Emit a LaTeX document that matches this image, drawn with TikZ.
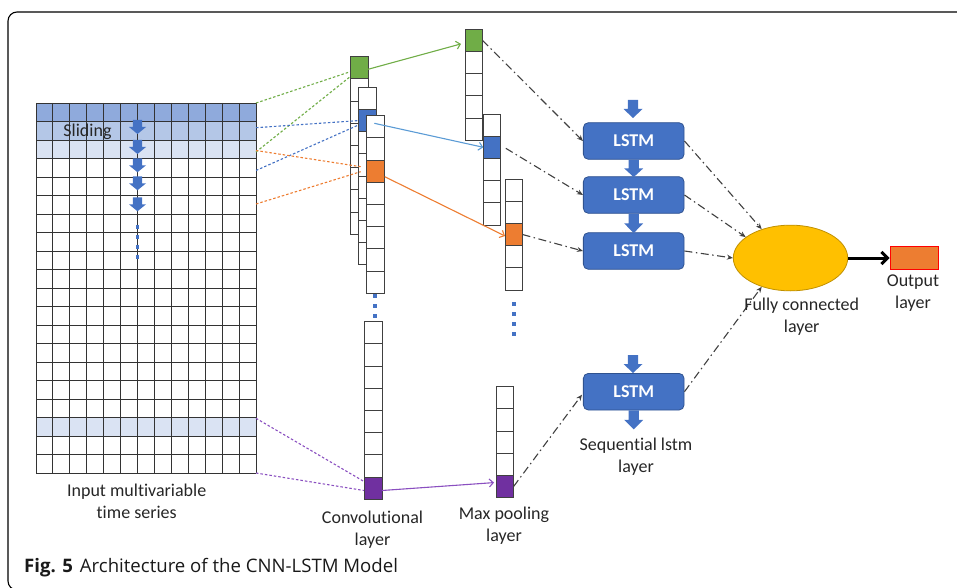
\documentclass[tikz,border=0pt]{standalone}
\usepackage{fontspec}
\setmainfont{Carlito}[Ligatures=NoCommon]
\newfontfamily\capfont{Open Sans}
\usetikzlibrary{arrows.meta,shapes.geometric,calc}

\definecolor{gblue}{HTML}{4472C4}
\definecolor{gblueD}{HTML}{2F528F}
\definecolor{rowA}{HTML}{8FAADC}
\definecolor{rowB}{HTML}{B4C7E7}
\definecolor{rowC}{HTML}{DAE3F3}
\definecolor{cgreen}{HTML}{70AD47}
\definecolor{corange}{HTML}{ED7D31}
\definecolor{cpurpleF}{HTML}{7030A0}
\definecolor{cpurpleL}{HTML}{8A4FC0}
\definecolor{lblue}{HTML}{5B9BD5}
\definecolor{fcy}{HTML}{FFC000}
\definecolor{fcyD}{HTML}{C09000}

\tikzset{pics/darr/.style 2 args={code={
  \fill[gblue] (-0.27*#1,0) -- (0.27*#1,0) -- (0.27*#1,0.5*#2) -- (0.5*#1,0.5*#2) -- (0,#2) -- (-0.5*#1,0.5*#2) -- (-0.27*#1,0.5*#2) -- cycle;}}}

\newcommand\cellcol[7]{%
  \foreach \i in {1,...,#4}{%
    \ifnum\i=#5\relax\def\fc{#6}\else\def\fc{white}\fi
    \node[cellbox, minimum width=#7pt, fill=\fc] (#1-\i) at ({#2+#7/2},{#3+(\i-0.5)*22.2}) {};
  }}

\begin{document}
\begin{tikzpicture}[x=1pt,y=-1pt,
  cellbox/.style={draw=black!75, line width=0.9pt, inner sep=0pt, outer sep=0pt, minimum height=22.2pt},
  gridl/.style={draw=black!80, line width=0.9pt},
  lstm/.style={draw=gblueD, fill=gblue, line width=0.8pt, rounded corners=5pt, minimum width=100.7pt, minimum height=36.6pt, inner sep=0pt, text=white, font=\fontsize{18}{22}\selectfont\bfseries},
  lbl/.style={align=center, font=\fontsize{18}{22}\selectfont, text=black!85, inner sep=0pt},
  dotc/.style={dash pattern=on 2.5pt off 2pt, line width=1.1pt},
  solidarr/.style={line width=1.1pt, -{Straight Barb[length=4pt,width=8pt]}},
  dd/.style={draw=black!75, line width=1.1pt, dash pattern=on 8pt off 3.5pt on 1.5pt off 3.5pt, -{Stealth[length=6pt,width=5pt]}},
  dotsq/.style={fill=gblue}
]
\useasboundingbox (0,0) rectangle (957,588);

% frame
\draw[line width=1.1pt, rounded corners=9pt] (990,12) -- (8,12) -- (8,590) -- (990,590);

% input grid
\fill[rowA] (36,103) rectangle (256,121.5);
\fill[rowB] (36,121.5) rectangle (256,140);
\fill[rowC] (36,140) rectangle (256,158.5);
\fill[rowC] (36,417.5) rectangle (256,436);
\foreach \k in {0,...,13} \draw[gridl] ({36+\k*220/13},103) -- ({36+\k*220/13},473);
\foreach \k in {0,...,20} \draw[gridl] (36,{103+\k*18.5}) -- (256,{103+\k*18.5});

\node[lbl] (tSl) at (87.5,132) {Sliding};
\foreach \yy in {120,140,158.3,176.3,197.3} \pic at (137.5,\yy) {darr={17}{14}};
\foreach \yy in {226.7,236.7,246.7,256.7} \fill[dotsq] (135.8,\yy-1.8) rectangle +(3.6,3.6);

% grid window corners
\coordinate (g1) at (256,103);
\coordinate (g2) at (256,152);
\coordinate (b1) at (256,127.7);
\coordinate (b2) at (256,170.5);
\coordinate (o1) at (256,150.5);
\coordinate (o2) at (256,204);
\coordinate (p1) at (256,418.3);
\coordinate (p2) at (256,473);

% convolutional layer
\cellcol{A}{350}{56.7}{8}{1}{cgreen}{18}
\cellcol{B}{358.3}{87.3}{8}{2}{gblue}{18}
\cellcol{C}{366.7}{115.7}{8}{3}{corange}{18}
\cellcol{D}{364}{321.7}{8}{8}{cpurpleF}{18}
\foreach \yy in {296,306,315.7} \fill[dotsq] (373.2,\yy-1.8) rectangle +(3.6,3.6);

% max pooling layer
\cellcol{P}{465}{29.3}{5}{1}{cgreen}{17.5}
\cellcol{Q}{483.3}{114}{5}{2}{gblue}{17.5}
\cellcol{R}{505}{179}{5}{3}{corange}{17.5}
\cellcol{S}{496}{386.7}{5}{5}{cpurpleF}{17.5}
\foreach \yy in {304,314,324,334} \fill[dotsq] (512.2,\yy-1.8) rectangle +(3.6,3.6);

% dotted links input -> conv
\draw[dotc, cgreen] (g1) -- ($(A-1.west)+(0,4)$);
\draw[dotc, cgreen] (g2) -- ($(A-1.west)+(0,9)$);
\draw[dotc, gblue] (b1) -- (B-2.west);
\draw[dotc, gblue] (b2) -- ($(B-2.west)+(0,4.5)$);
\draw[dotc, corange] (o1) -- ($(C-3.west)+(-6,-4.5)$);
\draw[dotc, corange] (o2) -- ($(C-3.west)+(-6,0.5)$);
\draw[dotc, cpurpleL] (p1) -- ($(D-8.west)+(0,-6.7)$);
\draw[dotc, cpurpleL] (p2) -- ($(D-8.west)+(0,2.3)$);

% conv -> pooling
\draw[solidarr, cgreen] ($(A-1.east)+(0,1.5)$) -- ($(P-1.west)+(-4,3.5)$);
\draw[solidarr, lblue] ($(B-2.center)+(7,2.7)$) -- (Q-2.west);
\draw[solidarr, corange] ($(C-3.east)+(0,5.5)$) -- ($(R-3.west)+(0,1.5)$);
\draw[solidarr, cpurpleL] ($(D-8.east)+(0,2.3)$) -- ($(S-5.west)+(-2,-4)$);

% LSTM
\node[lstm] (L1) at (633.7,141) {LSTM};
\node[lstm] (L2) at (633.7,195) {LSTM};
\node[lstm] (L3) at (633.7,251) {LSTM};
\node[lstm] (L4) at (633.7,391.7) {LSTM};
\pic at (633,100) {darr={19}{18}};
\pic at (L1.south) {darr={19}{17.4}};
\pic at (L2.south) {darr={19}{19.4}};
\pic at (633,355) {darr={19}{18}};
\pic at (L4.south) {darr={19}{19}};

% fully connected + output
\node[ellipse, draw=fcyD, fill=fcy, line width=0.8pt, minimum width=114.4pt, minimum height=65.7pt, inner sep=0pt] (FC) at (790.5,258) {};
\node[draw=red, fill=corange, line width=1pt, minimum width=48.3pt, minimum height=22.6pt, inner sep=0pt] (OUT) at (914.2,258) {};
\draw[line width=3pt, -{Straight Barb[length=6pt,width=12pt]}] (FC.east) -- (OUT.west);

% dash-dot links
\draw[dd] (P-1.east) -- (L1.west);
\draw[dd] ($(Q-2.east)+(5,1)$) -- (L2.west);
\draw[dd] (R-3.east) -- (L3.west);
\draw[dd] (S-5.east) -- ($(L4.west)+(-1,3)$);
\draw[dd] (L1.east) -- (FC.135);
\draw[dd] (L2.east) -- (FC.155);
\draw[dd] (L3.east) -- (FC.west);
\draw[dd] (L4.east) -- (FC.225);

% labels
\node[lbl] (tIn) at (136.7,501) {Input multivariable\\time series};
\node[lbl] (tConv) at (372.5,530) {Convolutional\\layer};
\node[lbl] (tPool) at (504,526) {Max pooling\\layer};
\node[lbl] (tSeq) at (636,457) {Sequential lstm\\layer};
\node[lbl] (tFC) at (801.7,317) {Fully connected\\layer};
\node[lbl] (tOut) at (913,293) {Output\\layer};
\node[anchor=west, inner sep=0pt, text=black!90, font=\capfont\fontsize{18.6}{21}\selectfont] (cap) at (24,568) {\textbf{Fig. 5}\hspace{7pt}Architecture of the CNN-LSTM Model};
\end{tikzpicture}
\end{document}
